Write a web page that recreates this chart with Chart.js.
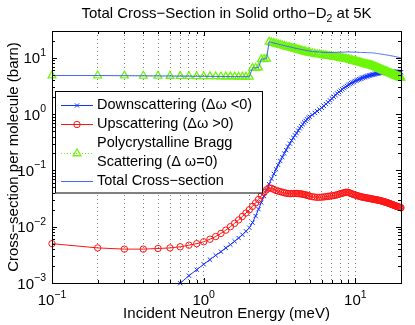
<!DOCTYPE html>
<html>
<head>
<meta charset="utf-8">
<script src="https://cdn.jsdelivr.net/npm/chart.js@4.4.1/dist/chart.umd.min.js"></script>
<style>
  html, body { margin: 0; padding: 0; background: #fff; }
  #wrap { width: 415px; height: 325px; }
</style>
</head>
<body>
<div id="wrap"><canvas id="xsChart"></canvas></div>
<script>
// incident energy grid (meV)
const energy = [
  0.1, 0.2, 0.3, 0.4, 0.5, 0.6, 0.7, 0.8, 0.9, 1.0,
  1.1, 1.2, 1.3, 1.4, 1.5, 1.6, 1.7, 1.8, 1.9, 2.0,
  2.1, 2.2, 2.3, 2.4, 2.5, 2.6, 2.7, 2.8, 2.9, 3.0,
  3.1, 3.2, 3.3, 3.4, 3.5, 3.6, 3.7, 3.8, 3.9, 4.0,
  4.1, 4.2, 4.3, 4.4, 4.5, 4.6, 4.7, 4.8, 4.9, 5.0,
  5.2, 5.4, 5.6, 5.8, 6.0, 6.2, 6.4, 6.6, 6.8, 7.0,
  7.2, 7.4, 7.6, 7.8, 8.0, 8.2, 8.4, 8.6, 8.8, 9.0,
  9.2, 9.4, 9.6, 9.8, 10.0, 10.2, 10.4, 10.6, 10.8, 11.0,
  11.2, 11.4, 11.6, 11.8, 12.0, 12.2, 12.4, 12.6, 12.8, 13.0,
  13.2, 13.4, 13.6, 13.8, 14.0, 14.2, 14.4, 14.6, 14.8, 15.0,
  15.2, 15.4, 15.6, 15.8, 16.0, 16.2, 16.4, 16.6, 16.8, 17.0,
  17.2, 17.4, 17.6, 17.8, 18.0, 18.2, 18.4, 18.6, 18.8, 19.0,
  19.2, 19.4, 19.6, 19.8, 20.0
];

// cross-sections per molecule (barn)
const downscatter = [
  null, null, null, null, null, null, 0.00099, 0.00135, 0.00172, 0.00215,
  0.0026, 0.0031, 0.0036, 0.0042, 0.0048, 0.0055, 0.0063, 0.0072, 0.0083, 0.0096,
  0.0118, 0.0155, 0.0205, 0.027, 0.035, 0.045, 0.057, 0.071, 0.087, 0.105,
  0.125, 0.147, 0.172, 0.20, 0.23, 0.265, 0.30, 0.34, 0.38, 0.42,
  0.46, 0.51, 0.56, 0.61, 0.66, 0.71, 0.76, 0.81, 0.86, 0.90,
  0.97, 1.05, 1.13, 1.21, 1.30, 1.40, 1.51, 1.63, 1.76, 1.90,
  2.04, 2.18, 2.33, 2.48, 2.62, 2.76, 2.90, 3.04, 3.17, 3.30,
  3.42, 3.54, 3.66, 3.77, 3.88, 3.98, 4.08, 4.17, 4.26, 4.35,
  4.43, 4.51, 4.59, 4.66, 4.73, 4.80, 4.86, 4.92, 4.98, 5.04,
  5.09, 5.14, 5.19, 5.24, 5.28, 5.32, 5.36, 5.40, 5.43, 5.46,
  5.49, 5.52, 5.54, 5.56, 5.58, 5.60, 5.61, 5.62, 5.63, 5.64,
  5.64, 5.65, 5.65, 5.65, 5.65, 5.64, 5.64, 5.63, 5.62, 5.61,
  5.60, 5.59, 5.58, 5.57, 5.56
];

const upscatter = [
  0.0050, 0.0042, 0.0040, 0.0040, 0.0041, 0.0042, 0.0044, 0.0047, 0.0050, 0.0054,
  0.0060, 0.0067, 0.0076, 0.0087, 0.0100, 0.0115, 0.0132, 0.0152, 0.0175, 0.0200,
  0.0230, 0.0265, 0.0305, 0.0355, 0.0405, 0.0455, 0.0490, 0.0480, 0.0460, 0.0440,
  0.0430, 0.0420, 0.0410, 0.0400, 0.0395, 0.0390, 0.0387, 0.0387, 0.0388, 0.0390,
  0.0390, 0.0388, 0.0385, 0.0382, 0.0378, 0.0373, 0.0368, 0.0362, 0.0356, 0.0350,
  0.0342, 0.0336, 0.0333, 0.0333, 0.0335, 0.0338, 0.0342, 0.0346, 0.0350, 0.0354,
  0.0358, 0.0363, 0.0370, 0.0378, 0.0386, 0.0394, 0.0401, 0.0407, 0.0411, 0.0407,
  0.0396, 0.0387, 0.0379, 0.0372, 0.0365, 0.0359, 0.0353, 0.0348, 0.0343, 0.0338,
  0.0335, 0.0332, 0.0329, 0.0326, 0.0323, 0.0320, 0.0318, 0.0315, 0.0312, 0.0310,
  0.0307, 0.0305, 0.0303, 0.0300, 0.0298, 0.0296, 0.0294, 0.0291, 0.0288, 0.0285,
  0.0282, 0.0279, 0.0276, 0.0273, 0.0270, 0.0267, 0.0264, 0.0261, 0.0258, 0.0255,
  0.0252, 0.0249, 0.0246, 0.0243, 0.0240, 0.0237, 0.0235, 0.0232, 0.0230, 0.0227,
  0.0225, 0.0223, 0.0221, 0.0219, 0.0217
];

const bragg = [
  4.85, 4.85, 4.82, 4.80, 4.78, 4.76, 4.74, 4.72, 4.70, 4.69,
  4.68, 4.67, 4.66, 4.65, 4.64, 4.63, 4.62, 4.61, 4.60, 4.60,
  6.6, 6.6, 6.7, 9.4, 9.5, 9.6, 19.2, 18.7, 18.2, 17.8,
  17.4, 17.0, 16.6, 16.2, 15.9, 15.6, 15.3, 15.0, 14.7, 14.4,
  14.2, 13.9, 13.7, 13.4, 13.2, 13.0, 12.8, 12.6, 12.4, 12.3,
  12.0, 11.8, 11.6, 11.5, 11.3, 11.1, 11.0, 10.8, 10.7, 10.5,
  10.4, 10.3, 10.2, 10.1, 9.9, 9.8, 9.7, 9.6, 9.5, 9.4,
  9.25, 9.10, 8.96, 8.82, 8.69, 8.56, 8.44, 8.32, 8.20, 8.09,
  7.99, 7.89, 7.80, 7.70, 7.61, 7.52, 7.44, 7.36, 7.28, 7.20,
  7.08, 6.96, 6.84, 6.72, 6.62, 6.51, 6.41, 6.31, 6.21, 6.11,
  6.02, 5.93, 5.85, 5.76, 5.68, 5.60, 5.52, 5.44, 5.37, 5.30,
  5.23, 5.16, 5.09, 5.03, 4.96, 4.90, 4.84, 4.78, 4.72, 4.67,
  4.61, 4.56, 4.50, 4.45, 4.40
];

const total = [
  4.86, 4.85, 4.82, 4.80, 4.78, 4.76, 4.74, 4.73, 4.71, 4.70,
  4.69, 4.68, 4.67, 4.66, 4.65, 4.65, 4.65, 4.64, 4.63, 4.63,
  6.64, 6.64, 6.75, 9.46, 9.58, 9.69, 19.31, 18.82, 18.33, 17.95,
  17.57, 17.19, 16.81, 16.44, 16.17, 15.90, 15.64, 15.38, 15.12, 14.86,
  14.70, 14.45, 14.30, 14.05, 13.90, 13.75, 13.60, 13.45, 13.30, 13.24,
  13.00, 12.88, 12.76, 12.74, 12.63, 12.53, 12.54, 12.46, 12.50, 12.44,
  12.48, 12.52, 12.57, 12.62, 12.56, 12.60, 12.64, 12.68, 12.71, 12.74,
  12.71, 12.68, 12.66, 12.63, 12.61, 12.58, 12.56, 12.52, 12.49, 12.47,
  12.45, 12.43, 12.42, 12.39, 12.37, 12.35, 12.33, 12.31, 12.29, 12.27,
  12.20, 12.13, 12.06, 11.99, 11.93, 11.86, 11.80, 11.74, 11.67, 11.60,
  11.54, 11.48, 11.42, 11.35, 11.29, 11.23, 11.16, 11.09, 11.03, 10.97,
  10.90, 10.83, 10.76, 10.70, 10.63, 10.56, 10.50, 10.43, 10.36, 10.30,
  10.23, 10.17, 10.10, 10.04, 9.98
];

// axis ticks
const xTicks = [0.1, 0.2, 0.3, 0.4, 0.5, 0.6, 0.7, 0.8, 0.9, 1, 2, 3, 4, 5, 6, 7, 8, 9, 10, 20];
const yTicks = [
  0.001, 0.002, 0.003, 0.004, 0.005, 0.006, 0.007, 0.008, 0.009,
  0.01, 0.02, 0.03, 0.04, 0.05, 0.06, 0.07, 0.08, 0.09,
  0.1, 0.2, 0.3, 0.4, 0.5, 0.6, 0.7, 0.8, 0.9,
  1, 2, 3, 4, 5, 6, 7, 8, 9, 10, 20
];
const xMajor = [0.1, 1, 10];
const xMajorExp = ['\u22121', '0', '1'];
const yMajor = [0.001, 0.01, 0.1, 1, 10];
const yMajorExp = ['\u22123', '\u22122', '\u22121', '0', '1'];

const titleMain = 'Total Cross\u2212Section in Solid ortho\u2212D';
const titleSub = '2';
const titleTail = ' at 5K';
const xTitle = 'Incident Neutron Energy (meV)';
const yTitle = 'Cross\u2212section per molecule (barn)';

const FONT = '"Liberation Sans", Arial, Helvetica, sans-serif';
const BLUE = 'rgb(20,50,255)';
const BLUE_TOTAL = 'rgb(70,100,255)';
const RED = 'rgb(255,20,20)';
const GREEN = 'rgb(110,245,10)';

function pts(vals) {
  return energy.map((e, i) => ({ x: e, y: vals[i] }));
}

function drawPow(ctx, exp, x, y, align) {
  ctx.font = `15px ${FONT}`;
  const w1 = ctx.measureText('10').width;
  ctx.font = `10.5px ${FONT}`;
  const w2 = ctx.measureText(exp).width;
  const x0 = align === 'center' ? x - (w1 + w2) / 2 : x - w1 - w2;
  ctx.font = `15px ${FONT}`;
  ctx.fillText('10', x0, y);
  ctx.font = `10.5px ${FONT}`;
  ctx.fillText(exp, x0 + w1, y - 7.5);
}

const frame = {
  id: 'frame',
  afterDatasetsDraw(chart) {
    const { ctx, chartArea: a, scales: { x, y } } = chart;
    ctx.save();
    ctx.strokeStyle = '#000';
    ctx.lineWidth = 1;
    ctx.beginPath();
    xTicks.forEach(v => {
      const px = Math.round(x.getPixelForValue(v)) + 0.5;
      const len = xMajor.includes(v) ? 5 : 3;
      ctx.moveTo(px, a.bottom); ctx.lineTo(px, a.bottom - len);
      ctx.moveTo(px, a.top); ctx.lineTo(px, a.top + len);
    });
    yTicks.forEach(v => {
      const py = Math.round(y.getPixelForValue(v)) + 0.5;
      const len = yMajor.includes(v) ? 5 : 3;
      ctx.moveTo(a.left, py); ctx.lineTo(a.left + len, py);
      ctx.moveTo(a.right, py); ctx.lineTo(a.right - len, py);
    });
    ctx.stroke();
    ctx.strokeRect(a.left + 0.5, a.top + 0.5, a.right - a.left, a.bottom - a.top);
    ctx.restore();
  },
  afterDraw(chart) {
    const { ctx, chartArea: a, scales: { x, y } } = chart;
    ctx.save();
    ctx.fillStyle = '#000';
    ctx.textBaseline = 'alphabetic';
    ctx.textAlign = 'left';

    // tick labels
    xMajor.forEach((v, i) => drawPow(ctx, xMajorExp[i], x.getPixelForValue(v), a.bottom + 22, 'center'));
    yMajor.forEach((v, i) => drawPow(ctx, yMajorExp[i], a.left - 6, y.getPixelForValue(v) + 5.5, 'right'));

    // title
    ctx.font = `15px ${FONT}`;
    const w1 = ctx.measureText(titleMain).width;
    const w3 = ctx.measureText(titleTail).width;
    ctx.font = `10.5px ${FONT}`;
    const w2 = ctx.measureText(titleSub).width;
    const cx = (a.left + a.right) / 2;
    const tx = cx - (w1 + w2 + w3) / 2;
    ctx.font = `15px ${FONT}`;
    ctx.fillText(titleMain, tx, 18);
    ctx.font = `10.5px ${FONT}`;
    ctx.fillText(titleSub, tx + w1, 22);
    ctx.font = `15px ${FONT}`;
    ctx.fillText(titleTail, tx + w1 + w2, 18);

    // axis titles
    ctx.textAlign = 'center';
    ctx.fillText(xTitle, cx, 317.5);
    ctx.save();
    ctx.translate(17.5, (a.top + a.bottom) / 2);
    ctx.rotate(-Math.PI / 2);
    ctx.fillText(yTitle, 0, 0);
    ctx.restore();

    // legend
    const lx = a.left + 3, ly = a.top + 60.5, lw = 207, lh = 101.5, row = 19;
    ctx.fillStyle = '#fff';
    ctx.fillRect(lx, ly, lw, lh);
    ctx.strokeStyle = '#000';
    ctx.lineWidth = 1;
    ctx.strokeRect(lx + 0.5, ly, lw, lh);
    ctx.textAlign = 'left';
    ctx.textBaseline = 'middle';
    let yy = ly + 13.5;
    chart.data.datasets.forEach(ds => {
      const lines = ds.label.split('\n');
      const sy = Math.round(yy + (lines.length - 1) * row / 2) + 0.5;
      ctx.strokeStyle = ds.borderColor;
      ctx.lineWidth = ds.borderWidth;
      ctx.setLineDash(ds.borderDash || []);
      ctx.beginPath();
      ctx.moveTo(lx + 6, sy); ctx.lineTo(lx + 38, sy);
      ctx.stroke();
      ctx.setLineDash([]);
      if (ds.pointRadius > 0 && Chart.helpers && Chart.helpers.drawPoint) {
        ctx.fillStyle = 'rgba(0,0,0,0)';
        ctx.strokeStyle = ds.pointBorderColor;
        ctx.lineWidth = ds.pointBorderWidth;
        Chart.helpers.drawPoint(ctx, {
          pointStyle: ds.pointStyle, rotation: 0,
          radius: ds.pointRadius, borderWidth: ds.pointBorderWidth
        }, lx + 22, sy);
      }
      ctx.fillStyle = '#000';
      ctx.font = `14.5px ${FONT}`;
      lines.forEach((t, k) => ctx.fillText(t, lx + 42, yy + k * row));
      yy += lines.length * row;
    });
    ctx.restore();
  }
};

let xsChart = null;

function initChart() {
  const ctx = document.getElementById('xsChart').getContext('2d');
  xsChart = new Chart(ctx, {
    type: 'line',
    data: {
      datasets: [
        {
          label: 'Downscattering (\u0394\u03c9 <0)',
          data: pts(downscatter),
          borderColor: BLUE,
          borderWidth: 1,
          pointStyle: 'crossRot',
          pointRadius: 3,
          pointBorderColor: BLUE,
          pointBorderWidth: 1,
          pointBackgroundColor: 'rgba(0,0,0,0)',
          order: 4
        },
        {
          label: 'Upscattering (\u0394\u03c9 >0)',
          data: pts(upscatter),
          borderColor: RED,
          borderWidth: 1,
          pointStyle: 'circle',
          pointRadius: 3.2,
          pointBorderColor: RED,
          pointBorderWidth: 1,
          pointBackgroundColor: 'rgba(0,0,0,0)',
          order: 3
        },
        {
          label: 'Polycrystalline Bragg\nScattering (\u0394 \u03c9=0)',
          data: pts(bragg),
          borderColor: GREEN,
          borderWidth: 1,
          borderDash: [1, 2],
          pointStyle: 'triangle',
          pointRadius: 4.5,
          pointBorderColor: GREEN,
          pointBorderWidth: 1.3,
          pointBackgroundColor: 'rgba(0,0,0,0)',
          order: 2
        },
        {
          label: 'Total Cross\u2212section',
          data: pts(total),
          borderColor: BLUE_TOTAL,
          borderWidth: 1,
          pointRadius: 0,
          order: 1
        }
      ]
    },
    options: {
      responsive: true,
      maintainAspectRatio: false,
      animation: false,
      events: [],
      clip: false,
      layout: { padding: { left: 52, top: 31, right: 14, bottom: 42 } },
      elements: { line: { tension: 0, fill: false } },
      plugins: {
        legend: { display: false },
        tooltip: { enabled: false }
      },
      scales: {
        x: {
          type: 'logarithmic',
          min: 0.1,
          max: 20,
          afterBuildTicks: s => { s.ticks = xTicks.map(v => ({ value: v })); },
          ticks: { display: false },
          grid: { display: true, drawTicks: false, color: 'rgba(0,0,0,0.5)', lineWidth: 1 },
          border: { display: false, dash: [1, 3] }
        },
        y: {
          type: 'logarithmic',
          min: 0.001,
          max: 30,
          afterBuildTicks: s => { s.ticks = yTicks.map(v => ({ value: v })); },
          ticks: { display: false },
          grid: { display: false, drawTicks: false },
          border: { display: false }
        }
      }
    },
    plugins: [frame]
  });
}

initChart();
</script>
</body>
</html>
